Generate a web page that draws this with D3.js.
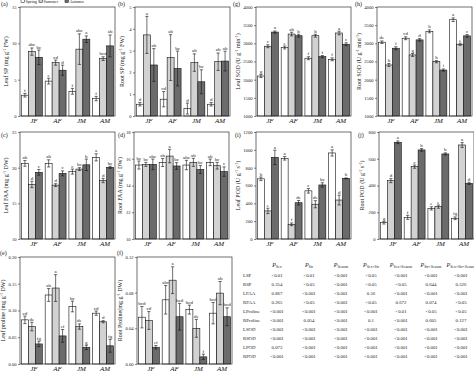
<!DOCTYPE html>
<html>
<head>
<meta charset="utf-8">
<script src="https://cdn.jsdelivr.net/npm/d3@7"></script>
<style>
  html, body { margin: 0; padding: 0; background: #fff; }
  svg { display: block; font-family: "Liberation Serif", "DejaVu Serif", serif; }
</style>
</head>
<body>
<div id="chart"></div>
<script>
// grouped bars, 10 panels + ANOVA table
const groups = ["JF", "AF", "JM", "AM"];
const seasons = ["Spring", "Summer", "Autumn"];
const seasonColors = ["#ffffff", "#d2d2d2", "#6b6b6b"];

// rows: spring, summer, autumn ; columns follow groups
const leafSPMean = [[2.86, 4.8, 3.4, 2.4], [8.86, 7.34, 9.2, 7.9], [8.08, 6.3, 10.57, 9.65]];
const leafSPErr = [[0.25, 0.4, 0.4, 0.3], [0.5, 0.35, 2.1, 0.25], [1.0, 0.7, 0.45, 1.5]];
const leafSPSig = [["f", "e", "f", "f"], ["abc", "cd", "abc", "bcd"], ["bc", "d", "a", "ab"]];

const rootSPMean = [[0.54, 0.77, 0.34, 0.54], [3.72, 2.68, 2.45, 2.49], [2.34, 2.18, 1.57, 2.52]];
const rootSPErr = [[0.08, 0.35, 0.25, 0.08], [0.85, 1.05, 0.4, 0.4], [0.75, 0.8, 0.55, 0.45]];
const rootSPSig = [["d", "cd", "d", "d"], ["a", "ab", "ab", "ab"], ["ab", "bc", "bc", "ab"]];

const leafSODMean = [[2100, 2885, 2590, 2560], [2920, 3255, 3210, 3285], [3310, 3210, 2635, 2975]];
const leafSODErr = [[40, 40, 40, 40], [40, 50, 40, 50], [30, 40, 30, 40]];
const leafSODSig = [["g", "e", "f", "f"], ["c", "ab", "b", "a"], ["a", "b", "f", "c"]];

const rootSODMean = [[3030, 3140, 3330, 3650], [2405, 2680, 2495, 2975], [2865, 3095, 2265, 3205]];
const rootSODErr = [[35, 40, 40, 50], [40, 40, 30, 30], [40, 35, 30, 35]];
const rootSODSig = [["de", "cd", "b", "a"], ["h", "g", "h", "e"], ["f", "d", "i", "c"]];

const leafFAAMean = [[20.6, 20.6, 19.45, 21.45], [17.65, 17.55, 19.8, 18.2], [19.35, 19.2, 20.4, 20.05]];
const leafFAAErr = [[0.4, 0.5, 0.35, 0.5], [0.45, 0.2, 0.2, 0.3], [0.4, 0.35, 0.8, 0.15]];
const leafFAASig = [["ab", "ab", "c", "a"], ["d", "d", "bc", "d"], ["c", "c", "b", "bc"]];

const rootFAAMean = [[15.53, 15.72, 15.53, 15.73], [15.58, 16.2, 15.73, 15.48], [15.58, 15.46, 15.2, 15.04]];
const rootFAAErr = [[0.3, 0.3, 0.35, 0.25], [0.15, 0.5, 0.3, 0.25], [0.4, 0.25, 0.3, 0.35]];
const rootFAASig = [["bc", "ab", "abc", "ab"], ["bc", "a", "ab", "bc"], ["abc", "bc", "bc", "c"]];

const leafPODMean = [[675, 905, 540, 965], [315, 165, 390, 437], [915, 407, 606, 680]];
const leafPODErr = [[20, 20, 25, 35], [30, 15, 40, 55], [80, 25, 25, 5]];
const leafPODSig = [["b", "a", "c", "a"], ["e", "f", "de", "d"], ["a", "de", "bc", "b"]];

const rootPODMean = [[122, 162, 229, 155], [436, 541, 242, 703], [723, 666, 636, 416]];
const rootPODErr = [[10, 15, 12, 10], [15, 12, 12, 18], [10, 10, 8, 8]];
const rootPODSig = [["g", "f", "e", "fg"], ["d", "c", "e", "a"], ["a", "b", "b", "d"]];

const leafProMean = [[0.0825, 0.129, 0.1075, 0.095], [0.07, 0.142, 0.07, 0.079], [0.0375, 0.0525, 0.031, 0.034]];
const leafProErr = [[0.007, 0.012, 0.01, 0.004], [0.008, 0.025, 0.005, 0.002], [0.005, 0.012, 0.004, 0.012]];
const leafProSig = [["cd", "ab", "bc", "cd"], ["de", "a", "de", "d"], ["fg", "ef", "g", "fg"]];

const rootProMean = [[0.0525, 0.072, 0.061, 0.057], [0.0488, 0.094, 0.04, 0.0795], [0.0188, 0.053, 0.008, 0.053]];
const rootProErr = [[0.012, 0.016, 0.005, 0.012], [0.01, 0.015, 0.01, 0.013], [0.002, 0.015, 0.003, 0.01]];
const rootProSig = [["bcd", "abc", "bcd", "bcd"], ["cd", "a", "de", "ab"], ["ef", "bcd", "f", "bcd"]];

// ANOVA table
const tableHeads = ["Sex", "Str", "Season", "Sex×Str", "Sex×Season", "Str×Season", "Sex×Str×Season"];
const tableRows = ["LSP", "RSP", "LFAA", "RFAA", "LProline", "RProline", "LSOD", "RSOD", "LPOD", "RPOD"];
const tableValues = [
  ["<0.01", "<0.01", "<0.001", "<0.05", "<0.001", "<0.001", "<0.001"],
  ["0.354", "<0.05", "<0.001", "<0.05", "<0.05", "0.644", "0.526"],
  ["0.867", "<0.001", "<0.001", "0.56", "<0.001", "<0.001", "<0.001"],
  ["0.265", "<0.05", "<0.001", "<0.05", "0.672", "0.074", "<0.05"],
  ["<0.001", "<0.001", "<0.001", "<0.001", "<0.01", "<0.05", "<0.05"],
  ["<0.001", "0.054", "<0.001", "0.1", "<0.001", "0.605", "0.127"],
  ["<0.001", "<0.001", "<0.001", "<0.001", "<0.001", "<0.001", "<0.001"],
  ["<0.001", "<0.001", "<0.001", "<0.001", "<0.001", "<0.001", "<0.001"],
  ["0.073", "<0.001", "<0.001", "<0.001", "<0.001", "<0.001", "<0.001"],
  ["<0.001", "<0.001", "<0.001", "<0.001", "<0.001", "<0.001", "<0.001"]
];

const width = 474;
const height = 373;

const svg = d3.select("#chart").append("svg")
  .attr("width", width)
  .attr("height", height)
  .attr("viewBox", `0 0 ${width} ${height}`);

const panels = [
  { tag: "(a)", tx: 1, ty: 6, x: 20, top: 7, bottom: 116, lab: ["Leaf SP (mg g", "-1", " FW)"], dom: [0, 15], ticks: [0, 5, 10, 15], fmt: "d", off: 12,
    mean: leafSPMean, err: leafSPErr, sig: leafSPSig },
  { tag: "(b)", tx: 118, ty: 6, x: 135, top: 7, bottom: 116, lab: ["Root SP (mg g", "-1", " FW)"], dom: [0, 5], ticks: [0, 1, 2, 3, 4, 5], fmt: "d", off: 11,
    mean: rootSPMean, err: rootSPErr, sig: rootSPSig },
  { tag: "(g)", tx: 233, ty: 6, x: 256, top: 7, bottom: 116, lab: ["Leaf SOD (U g", "-1", " min", "-1", ")"], dom: [1000, 4000], ticks: d3.range(1000, 4001, 500), fmt: "d", off: 16,
    mean: leafSODMean, err: leafSODErr, sig: leafSODSig },
  { tag: "(h)", tx: 355, ty: 6, x: 377, top: 7, bottom: 116, lab: ["Root SOD (U g", "-1", " min", "-1", ")"], dom: [1000, 4000], ticks: d3.range(1000, 4001, 500), fmt: "d", off: 16,
    mean: rootSODMean, err: rootSODErr, sig: rootSODSig },
  { tag: "(c)", tx: 1, ty: 137, x: 20, top: 132, bottom: 239, lab: ["Leaf FAA (mg g", "-1", " DW)"], dom: [10, 25], ticks: [10, 15, 20, 25], fmt: "d", off: 12,
    mean: leafFAAMean, err: leafFAAErr, sig: leafFAASig },
  { tag: "(d)", tx: 118, ty: 137, x: 134, top: 132, bottom: 239, lab: ["Root FAA (mg g", "-1", " DW)"], dom: [10, 18], ticks: [10, 12, 14, 16, 18], fmt: "d", off: 12,
    mean: rootFAAMean, err: rootFAAErr, sig: rootFAASig },
  { tag: "(i)", tx: 235, ty: 137, x: 256, top: 132, bottom: 239, lab: ["Leaf POD (U g", "-1", " s", "-1", ")"], dom: [0, 1200], ticks: d3.range(0, 1201, 200), fmt: "d", off: 16,
    mean: leafPODMean, err: leafPODErr, sig: leafPODSig },
  { tag: "(j)", tx: 358, ty: 137, x: 379, top: 132, bottom: 239, lab: ["Root POD (U g", "-1", " s", "-1", ")"], dom: [0, 800], ticks: d3.range(0, 801, 200), fmt: "d", off: 15,
    mean: rootPODMean, err: rootPODErr, sig: rootPODSig },
  { tag: "(e)", tx: 0, ty: 255, x: 20, top: 257, bottom: 364, lab: ["Leaf proline (mg g", "-1", " DW)"], dom: [0, 0.2], ticks: [0, 0.05, 0.1, 0.15, 0.2], fmt: ".2f", off: 15,
    mean: leafProMean, err: leafProErr, sig: leafProSig },
  { tag: "(f)", tx: 117, ty: 255, x: 137, top: 257, bottom: 364, lab: ["Root Proline(mg g", "-1", " DW)"], dom: [0, 0.12], ticks: [0, 0.04, 0.08, 0.12], fmt: ".2f", off: 15,
    mean: rootProMean, err: rootProErr, sig: rootProSig }
];

const panelW = 95;

function drawPanel(p) {
  const g = svg.append("g");
  const x0 = d3.scaleBand().domain(groups).range([p.x, p.x + panelW]).paddingInner(0.12).paddingOuter(0.06);
  const x1 = d3.scaleBand().domain(seasons).range([0, x0.bandwidth()]);
  const y = d3.scaleLinear().domain(p.dom).range([p.bottom, p.top]);

  const cells = [];
  seasons.forEach((s, si) => {
    groups.forEach((grp, gi) => {
      cells.push({ s, si, grp, v: p.mean[si][gi], e: p.err[si][gi], l: p.sig[si][gi] });
    });
  });

  const bars = g.selectAll("g.bar").data(cells).join("g").attr("class", "bar");

  bars.append("rect")
    .attr("x", (d) => x0(d.grp) + x1(d.s))
    .attr("y", (d) => y(d.v))
    .attr("width", x1.bandwidth())
    .attr("height", (d) => y(p.dom[0]) - y(d.v))
    .attr("fill", (d) => seasonColors[d.si])
    .attr("stroke", "#111")
    .attr("stroke-width", 0.6);

  const cx = (d) => x0(d.grp) + x1(d.s) + x1.bandwidth() / 2;
  bars.append("line")
    .attr("x1", cx).attr("x2", cx)
    .attr("y1", (d) => y(d.v - d.e)).attr("y2", (d) => y(d.v + d.e))
    .attr("stroke", "#111").attr("stroke-width", 0.6);
  [-1, 1].forEach((k) => {
    bars.append("line")
      .attr("x1", (d) => cx(d) - 1.6).attr("x2", (d) => cx(d) + 1.6)
      .attr("y1", (d) => y(d.v + k * d.e)).attr("y2", (d) => y(d.v + k * d.e))
      .attr("stroke", "#111").attr("stroke-width", 0.6);
  });

  bars.append("text")
    .attr("x", cx)
    .attr("y", (d) => y(d.v + d.e) - 1.5)
    .attr("text-anchor", "middle")
    .attr("font-size", 5)
    .attr("fill", "#222")
    .text((d) => d.l);

  // frame
  g.append("rect")
    .attr("x", p.x).attr("y", p.top)
    .attr("width", panelW).attr("height", p.bottom - p.top)
    .attr("fill", "none").attr("stroke", "#333").attr("stroke-width", 0.7);

  // y axis
  const yAxis = g.append("g")
    .attr("transform", `translate(${p.x},0)`)
    .call(d3.axisLeft(y).tickValues(p.ticks).tickFormat(d3.format(p.fmt)).tickSize(2).tickPadding(1.5));
  yAxis.select(".domain").remove();
  yAxis.selectAll("line").attr("stroke", "#333").attr("stroke-width", 0.6);
  yAxis.selectAll("text").attr("font-size", 4.6).attr("font-family", "Liberation Serif").attr("fill", "#222");

  // x labels
  g.selectAll("text.xl").data(groups).join("text")
    .attr("class", "xl")
    .attr("x", (d) => x0(d) + x0.bandwidth() / 2 + 2)
    .attr("y", p.bottom + 7)
    .attr("text-anchor", "middle")
    .attr("font-size", 7)
    .attr("font-style", "italic")
    .attr("fill", "#111")
    .text((d) => d);

  // y label
  const yl = g.append("text")
    .attr("transform", `translate(${p.x - p.off},${(p.top + p.bottom) / 2}) rotate(-90)`)
    .attr("text-anchor", "middle")
    .attr("font-size", 6)
    .attr("fill", "#111");
  p.lab.forEach((t, i) => {
    const sup = i % 2 === 1;
    yl.append("tspan")
      .attr("font-size", sup ? 4 : 6)
      .attr("dy", sup ? -2.2 : (i > 0 ? 2.2 : 0))
      .text(t);
  });

  // panel tag
  g.append("text")
    .attr("x", p.tx)
    .attr("y", p.ty)
    .attr("font-size", 6)
    .attr("fill", "#111")
    .text(p.tag);
}

panels.forEach(drawPanel);

// legend (partly cut at top like the source)
const legend = svg.append("g").attr("transform", "translate(21,0)");
const legX = [0, 18, 44];
seasons.forEach((s, i) => {
  legend.append("rect")
    .attr("x", legX[i]).attr("y", -1)
    .attr("width", 3.5).attr("height", 3.5)
    .attr("fill", seasonColors[i]).attr("stroke", "#111").attr("stroke-width", 0.5);
  legend.append("text")
    .attr("x", legX[i] + 4.5).attr("y", 2.8)
    .attr("font-size", 4.3).attr("fill", "#222")
    .text(s);
});

// table
const colX = [277, 309, 341, 371, 401, 431, 461];
const tbl = svg.append("g").attr("font-size", 4.8).attr("fill", "#222");
tableHeads.forEach((h, i) => {
  const t = tbl.append("text").attr("x", colX[i]).attr("y", 267).attr("text-anchor", "middle");
  t.append("tspan").attr("font-style", "italic").attr("font-size", 6).text("P");
  t.append("tspan").attr("font-size", 3.8).attr("dy", 1.2).text(h);
});
tableRows.forEach((r, ri) => {
  const yy = 277 + ri * 9;
  tbl.append("text").attr("x", 243).attr("y", yy).text(r);
  tableValues[ri].forEach((v, ci) => {
    tbl.append("text").attr("x", colX[ci]).attr("y", yy).attr("text-anchor", "middle").text(v);
  });
});
</script>
</body>
</html>
